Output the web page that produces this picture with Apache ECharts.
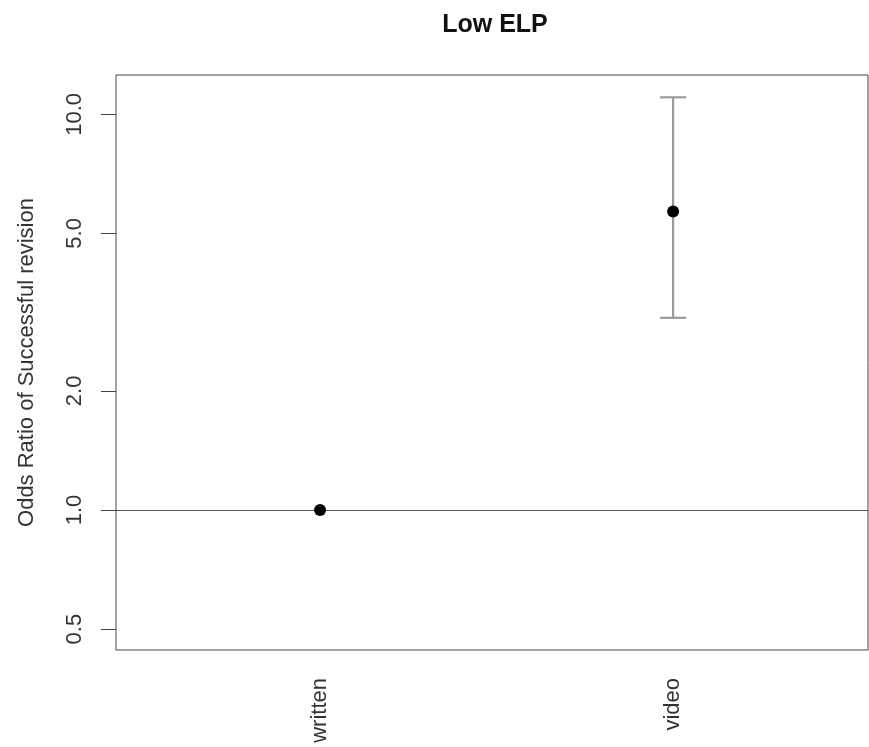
<!DOCTYPE html>
<html>
<head>
<meta charset="utf-8">
<script src="https://cdn.jsdelivr.net/npm/echarts@6/dist/echarts.min.js"></script>
<style>
html,body{margin:0;padding:0;background:#fff;}
#chart{width:869px;height:747px;}
</style>
</head>
<body>
<div id="chart"></div>
<script>
// ---- data ----
const categories = ['written', 'video'];
const oddsRatio = [1, 5.68];
const ciLower = [null, 3.06];
const ciUpper = [null, 11.04];
const yTickValues = [0.5, 1, 2, 5, 10];
const referenceLine = 1;

const FONT = '"Liberation Sans", Arial, Helvetica, sans-serif';

const pointData = categories.map((c, i) => [i + 1, oddsRatio[i]]);
const ciData = [];
categories.forEach((c, i) => {
  if (ciLower[i] != null && ciUpper[i] != null) ciData.push([i + 1, ciLower[i], ciUpper[i]]);
});

const chart = echarts.init(document.getElementById('chart'), null, {renderer: 'canvas'});
chart.setOption({
  animation: false,
  backgroundColor: '#ffffff',
  title: {
    text: 'Low ELP',
    left: 495,
    textAlign: 'center',
    top: 13,
    padding: 0,
    textStyle: {fontFamily: FONT, fontSize: 25, fontWeight: 'bold', color: '#111'}
  },
  grid: {
    left: 116, top: 75, right: 1, bottom: 97,
    show: true, borderColor: '#444', borderWidth: 1, backgroundColor: 'transparent',
    containLabel: false
  },
  xAxis: {
    type: 'value',
    min: 0.422, max: 2.552,
    splitLine: {show: false},
    axisLine: {show: false},
    axisTick: {show: false},
    axisLabel: {
      customValues: categories.map((c, i) => i + 1),
      formatter: v => categories[Math.round(v) - 1] || '',
      rotate: 90,
      margin: 28,
      fontFamily: FONT, fontSize: 22, color: '#333'
    }
  },
  yAxis: {
    type: 'log',
    logBase: 10,
    min: 0.4428, max: 12.57,
    name: 'Odds Ratio of Successful revision',
    nameLocation: 'middle',
    nameRotate: 90,
    nameGap: 78,
    nameTextStyle: {fontFamily: FONT, fontSize: 22, color: '#333'},
    splitLine: {show: false},
    axisLine: {show: false},
    axisTick: {
      show: true, length: 15, customValues: yTickValues,
      lineStyle: {color: '#444', width: 1}
    },
    axisLabel: {
      customValues: yTickValues,
      formatter: v => Number(v).toFixed(1),
      rotate: 90,
      margin: 30,
      fontFamily: FONT, fontSize: 22, color: '#333'
    }
  },
  series: [
    {
      type: 'custom',
      name: 'ci',
      z: 2,
      silent: true,
      data: ciData,
      encode: {x: 0, y: [1, 2]},
      renderItem: function (params, api) {
        const x = api.value(0);
        const lo = api.coord([x, api.value(1)]);
        const hi = api.coord([x, api.value(2)]);
        const half = 13;
        const style = {stroke: '#9a9a9a', lineWidth: 2.2, fill: null};
        return {
          type: 'group',
          children: [
            {type: 'line', shape: {x1: lo[0], y1: lo[1], x2: hi[0], y2: hi[1]}, style: style},
            {type: 'line', shape: {x1: hi[0] - half, y1: hi[1], x2: hi[0] + half, y2: hi[1]}, style: style},
            {type: 'line', shape: {x1: lo[0] - half, y1: lo[1], x2: lo[0] + half, y2: lo[1]}, style: style}
          ]
        };
      }
    },
    {
      type: 'scatter',
      name: 'OR',
      z: 5,
      symbol: 'circle',
      symbolSize: 12,
      itemStyle: {color: '#000', opacity: 1},
      emphasis: {disabled: true},
      data: pointData,
      markLine: {
        silent: true,
        symbol: 'none',
        label: {show: false},
        lineStyle: {color: '#555', width: 1, type: 'solid'},
        data: [{yAxis: referenceLine}]
      }
    }
  ]
});
</script>
</body>
</html>
